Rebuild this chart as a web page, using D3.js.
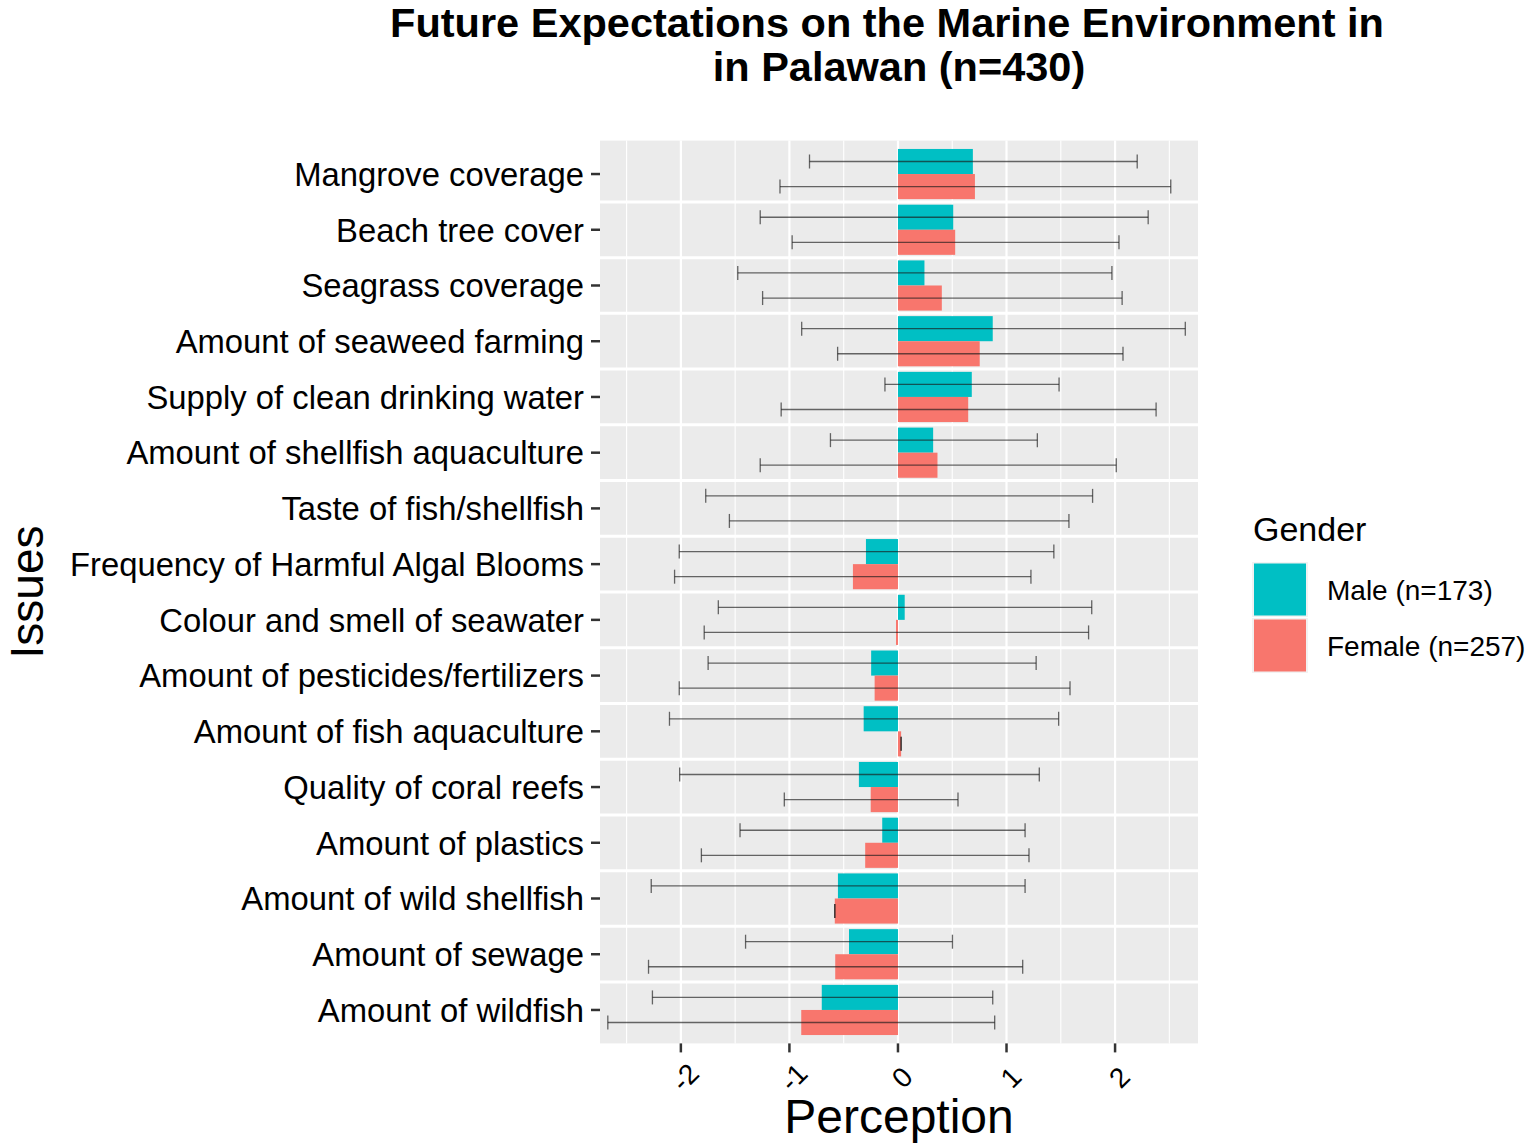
<!DOCTYPE html>
<html>
<head>
<meta charset="utf-8">
<script src="https://cdn.jsdelivr.net/npm/d3@7"></script>
<style>
  html, body { margin: 0; padding: 0; background: #fff; }
  text { font-family: "Liberation Sans", Arial, sans-serif; }
</style>
</head>
<body>
<svg id="chart" width="1536" height="1145"></svg>
<script>
const issues = [
  "Mangrove coverage",
  "Beach tree cover",
  "Seagrass coverage",
  "Amount of seaweed farming",
  "Supply of clean drinking water",
  "Amount of shellfish aquaculture",
  "Taste of fish/shellfish",
  "Frequency of Harmful Algal Blooms",
  "Colour and smell of seawater",
  "Amount of pesticides/fertilizers",
  "Amount of fish aquaculture",
  "Quality of coral reefs",
  "Amount of plastics",
  "Amount of wild shellfish",
  "Amount of sewage",
  "Amount of wildfish"
];
const maleMean   = [0.69, 0.509, 0.244, 0.873, 0.68, 0.324, 0.0, -0.295, 0.062, -0.247, -0.316, -0.36, -0.145, -0.553, -0.451, -0.702];
const maleLow    = [-0.815, -1.269, -1.476, -0.887, -0.12, -0.622, -1.771, -2.015, -1.655, -1.749, -2.105, -2.011, -1.455, -2.273, -1.404, -2.262];
const maleHigh   = [2.204, 2.305, 1.971, 2.647, 1.484, 1.284, 1.793, 1.436, 1.785, 1.273, 1.48, 1.302, 1.171, 1.171, 0.502, 0.873];
const femaleMean = [0.709, 0.527, 0.404, 0.753, 0.647, 0.364, 0.0, -0.415, -0.018, -0.215, 0.029, -0.251, -0.302, -0.582, -0.578, -0.891];
const femaleLow  = [-1.087, -0.975, -1.247, -0.556, -1.076, -1.269, -1.553, -2.058, -1.785, -2.015, 0.029, -1.047, -1.811, -0.582, -2.298, -2.673];
const femaleHigh = [2.513, 2.036, 2.065, 2.073, 2.378, 2.011, 1.575, 1.225, 1.756, 1.585, 0.029, 0.553, 1.207, -0.582, 1.149, 0.891];
const genders = ["Male (n=173)", "Female (n=257)"];
const genderColors = ["#00BFC4", "#F8766D"];
const xMajor = [-2, -1, 0, 1, 2];
const xMinor = [-2.5, -1.5, -0.5, 0.5, 1.5, 2.5];

const svg = d3.select("#chart");
const P = {left: 600, right: 1198, top: 140.6, bottom: 1043.4};

const x = d3.scaleLinear().domain([-2.745, 2.764]).range([P.left, P.right]);
const y = d3.scaleBand().domain(issues).range([P.top, P.bottom]).paddingInner(0).paddingOuter(0.1);
const step = y.step();
const dodgeW = step * 0.9;
const subY = d3.scaleBand().domain(genders).range([(step - dodgeW) / 2, (step + dodgeW) / 2]);

// panel background
svg.append("rect").attr("x", P.left).attr("y", P.top)
  .attr("width", P.right - P.left).attr("height", P.bottom - P.top).attr("fill", "#EBEBEB");

// grid
svg.append("g").selectAll("line").data(xMinor).join("line")
  .attr("x1", d => x(d)).attr("x2", d => x(d)).attr("y1", P.top).attr("y2", P.bottom)
  .attr("stroke", "#fff").attr("stroke-width", 1.1);
svg.append("g").selectAll("line").data(xMajor).join("line")
  .attr("x1", d => x(d)).attr("x2", d => x(d)).attr("y1", P.top).attr("y2", P.bottom)
  .attr("stroke", "#fff").attr("stroke-width", 2.2);
svg.append("g").selectAll("line").data(issues.slice(1)).join("line")
  .attr("x1", P.left).attr("x2", P.right)
  .attr("y1", d => y(d)).attr("y2", d => y(d))
  .attr("stroke", "#fff").attr("stroke-width", 3);

// rows
const rows = [];
issues.forEach((iss, i) => {
  rows.push({issue: iss, g: genders[0], c: genderColors[0], m: maleMean[i], lo: maleLow[i], hi: maleHigh[i]});
  rows.push({issue: iss, g: genders[1], c: genderColors[1], m: femaleMean[i], lo: femaleLow[i], hi: femaleHigh[i]});
});

svg.append("g").selectAll("rect").data(rows).join("rect")
  .attr("x", d => Math.min(x(0), x(d.m)))
  .attr("width", d => Math.abs(x(d.m) - x(0)))
  .attr("y", d => y(d.issue) + subY(d.g))
  .attr("height", subY.bandwidth())
  .attr("fill", d => d.c);

// error bars
const eb = svg.append("g").attr("stroke", "#1a1a1a").attr("stroke-opacity", 0.65).attr("stroke-width", 1.3).attr("fill", "none");
const capH = 7;
rows.forEach(d => {
  const cy = y(d.issue) + subY(d.g) + subY.bandwidth() / 2;
  eb.append("line").attr("x1", x(d.lo)).attr("x2", x(d.hi)).attr("y1", cy).attr("y2", cy);
  eb.append("line").attr("x1", x(d.lo)).attr("x2", x(d.lo)).attr("y1", cy - capH).attr("y2", cy + capH);
  eb.append("line").attr("x1", x(d.hi)).attr("x2", x(d.hi)).attr("y1", cy - capH).attr("y2", cy + capH);
});

// y axis
const yAxis = svg.append("g");
issues.forEach(iss => {
  const cy = y(iss) + step / 2;
  yAxis.append("line").attr("x1", P.left - 9).attr("x2", P.left).attr("y1", cy).attr("y2", cy)
    .attr("stroke", "#333").attr("stroke-width", 2.5);
  yAxis.append("text").attr("x", P.left - 16).attr("y", cy).attr("dy", "0.36em")
    .attr("text-anchor", "end").attr("font-size", 32.8).attr("fill", "#000").text(iss);
});

// x axis
const xAxis = svg.append("g");
xMajor.forEach(v => {
  xAxis.append("line").attr("x1", x(v)).attr("x2", x(v)).attr("y1", P.bottom).attr("y2", P.bottom + 9)
    .attr("stroke", "#333").attr("stroke-width", 2.5);
  const tx = x(v) + 4, ty = 1077;
  xAxis.append("text").attr("transform", `translate(${tx},${ty}) rotate(-45)`)
    .attr("text-anchor", "middle").attr("dy", "0.36em")
    .attr("font-size", 28).attr("fill", "#000").text(String(v));
});

// axis titles
svg.append("text").attr("x", (P.left + P.right) / 2).attr("y", 1133)
  .attr("text-anchor", "middle").attr("font-size", 48).attr("fill", "#000").text("Perception");
svg.append("text").attr("transform", `translate(43,${(P.top + P.bottom) / 2}) rotate(-90)`)
  .attr("text-anchor", "middle").attr("font-size", 46).attr("fill", "#000").text("Issues");

// title
svg.append("text").attr("x", 887).attr("y", 37).attr("text-anchor", "middle")
  .attr("font-size", 41.5).attr("font-weight", "bold").attr("fill", "#000")
  .text("Future Expectations on the Marine Environment in");
svg.append("text").attr("x", 899).attr("y", 81).attr("text-anchor", "middle")
  .attr("font-size", 41.5).attr("font-weight", "bold").attr("fill", "#000")
  .text("in Palawan (n=430)");

// legend
const lg = svg.append("g");
lg.append("text").attr("x", 1253).attr("y", 541).attr("font-size", 34).attr("fill", "#000").text("Gender");
genders.forEach((g, i) => {
  const ky = 562 + i * 56;
  lg.append("rect").attr("x", 1252).attr("y", ky).attr("width", 56).attr("height", 55).attr("fill", "#F2F2F2");
  lg.append("rect").attr("x", 1254).attr("y", ky + 1.5).attr("width", 52).attr("height", 52).attr("fill", genderColors[i]);
  lg.append("text").attr("x", 1327).attr("y", ky + 28).attr("dy", "0.36em")
    .attr("font-size", 28).attr("fill", "#000").text(g);
});
</script>
</body>
</html>
